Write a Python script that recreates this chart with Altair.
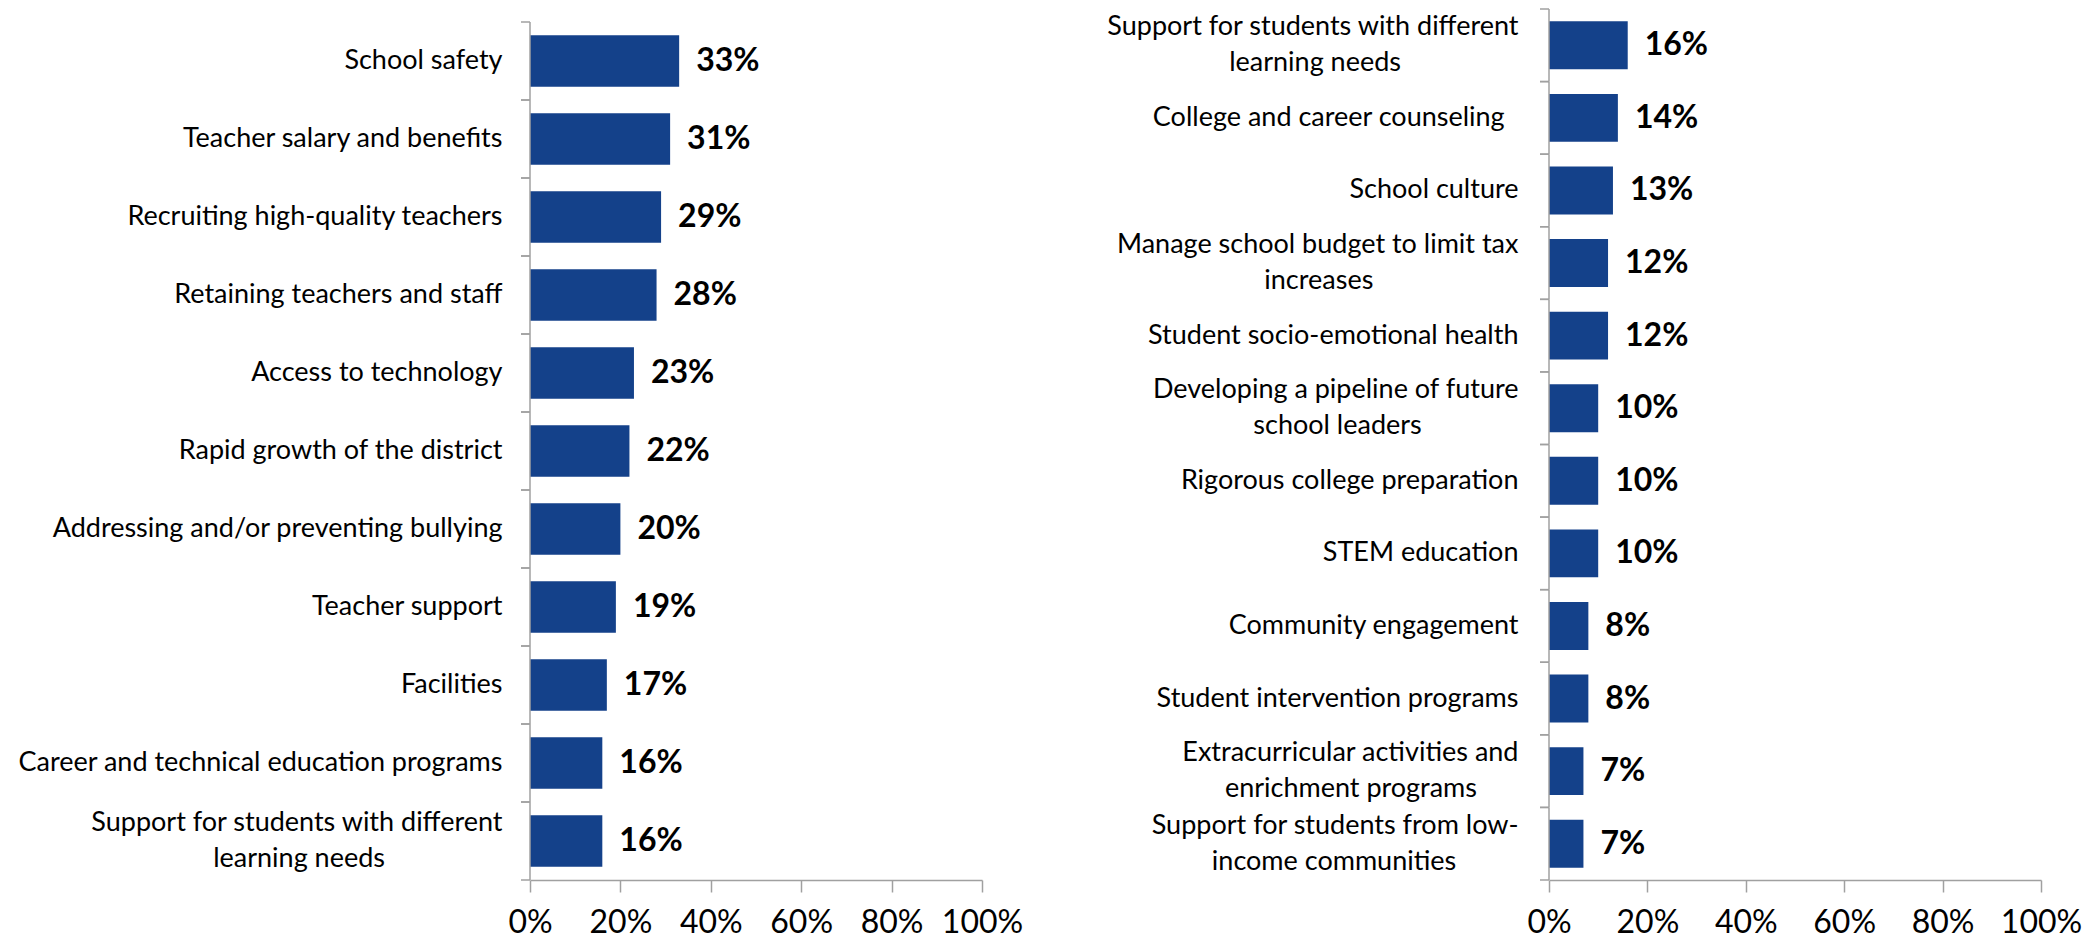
import altair as alt
import pandas as pd

left_categories = [
    "School safety",
    "Teacher salary and benefits",
    "Recruiting high-quality teachers",
    "Retaining teachers and staff",
    "Access to technology",
    "Rapid growth of the district",
    "Addressing and/or preventing bullying",
    "Teacher support",
    "Facilities",
    "Career and technical education programs",
    "Support for students with different\nlearning needs",
]
left_values = [33, 31, 29, 28, 23, 22, 20, 19, 17, 16, 16]

right_categories = [
    "Support for students with different\nlearning needs",
    "College and career counseling ",
    "School culture",
    "Manage school budget to limit tax\nincreases",
    "Student socio-emotional health",
    "Developing a pipeline of future\nschool leaders",
    "Rigorous college preparation",
    "STEM education",
    "Community engagement",
    "Student intervention programs",
    "Extracurricular activities and\nenrichment programs",
    "Support for students from low-\nincome communities",
]
right_values = [16, 14, 13, 12, 12, 10, 10, 10, 8, 8, 7, 7]

x_ticks = [0, 0.2, 0.4, 0.6, 0.8, 1.0]

BLUE = "#14418A"
GRAY = "#A0A0A0"
FONT = "Lato"
NBSP = "\u00a0"
ZWSP = "\u200b"
LABEL_SIZE = 27
LINE_H = 36

# rough advance widths (em) of the label font, used only to centre wrapped lines
_W = dict(a=.51, b=.56, c=.46, d=.56, e=.52, f=.32, g=.50, h=.56, i=.24, j=.24, k=.50,
          l=.24, m=.83, n=.56, o=.56, p=.55, q=.56, r=.36, s=.43, t=.35, u=.56, v=.50,
          w=.76, x=.49, y=.50, z=.45)
_W.update({" ": .26, "-": .35, "/": .36})
NBSP_EM = 0.255


def text_em(s):
    return sum(_W.get(ch, .62) for ch in s)


def center_lines(label):
    """Right-aligned axis labels: pad lines with non-breaking spaces so each block looks centred."""
    lines = label.split("\n")
    if len(lines) == 1:
        if label.endswith(" "):
            return label.rstrip() + NBSP * 2 + ZWSP
        return label
    w = max(text_em(l) for l in lines)
    out = []
    for l in lines:
        n = round((w - text_em(l)) / 2 / NBSP_EM)
        out.append(l + NBSP * n + ZWSP if n else l)
    return "\n".join(out)


def panel(cats, vals, w, h, step, label_pad, extent):
    cats = [center_lines(c) for c in cats]
    n = len(cats)
    pad_outer = max(0.0, (h / step - n) / 2)
    df = pd.DataFrame({"cat": cats, "val": [v / 100 for v in vals]})
    multi = "indexof(datum.value, '\\n') >= 0"
    y_axis = alt.Axis(
        ticks=False,
        domain=False,
        labelPadding=label_pad,
        labelFontSize=LABEL_SIZE,
        labelFont=FONT,
        labelColor="black",
        labelLimit=1000,
        labelLineHeight=LINE_H,
        labelOffset={"condition": {"test": multi, "value": -LINE_H / 2}, "value": 0},
        labelExpr="split(datum.label, '\\n')",
        minExtent=extent,
        maxExtent=extent,
    )
    yscale = alt.Scale(paddingInner=0, paddingOuter=pad_outer, align=1)
    y = alt.Y("cat:N", sort=cats, title=None, scale=yscale, axis=y_axis)
    x = alt.X(
        "val:Q",
        title=None,
        scale=alt.Scale(domain=[0, 1]),
        axis=alt.Axis(
            values=x_ticks,
            format=".0%",
            grid=False,
            tickSize=12,
            tickColor=GRAY,
            tickWidth=1.5,
            domainColor=GRAY,
            domainWidth=1.5,
            labelFontSize=32,
            labelFont=FONT,
            labelColor="black",
            labelPadding=15,
            labelOverlap=False,
            labelFlush=False,
        ),
    )
    base = alt.Chart(df)
    bars = base.mark_bar(color=BLUE, height=alt.RelativeBandSize(0.66)).encode(x=x, y=y)
    ycat = alt.Y("cat:N", sort=cats)
    text = base.mark_text(
        align="left", baseline="middle", dx=17, font=FONT, fontWeight="bold",
        fontSize=32, color="black"
    ).encode(
        x=alt.X("val:Q"),
        y=ycat,
        text=alt.Text("val:Q", format=".0%"),
    )
    # vertical axis line, one segment per category band
    vline = base.mark_bar(color=GRAY).encode(
        y=ycat, x=alt.value(-0.75), x2=alt.value(0.75)
    )
    ticks_top = base.mark_rule(color=GRAY, strokeWidth=1.5).encode(
        y=alt.Y("cat:N", sort=cats, bandPosition=0),
        x=alt.value(-9),
        x2=alt.value(0),
    )
    ticks_bot = base.mark_rule(color=GRAY, strokeWidth=1.5).encode(
        y=alt.Y("cat:N", sort=cats, bandPosition=1),
        x=alt.value(-9),
        x2=alt.value(0),
    )
    return alt.layer(bars, text, vline, ticks_top, ticks_bot).properties(width=w, height=h)


left = panel(left_categories, left_values, 452, 871, 78, 28, 522)
right = panel(right_categories, right_values, 492, 871, 871 / 12, 31, 450)

chart = alt.hconcat(left, right, spacing=76, padding=0).configure_view(stroke=None)

chart.save("out.html", embed_options={"renderer": "svg", "actions": False})
